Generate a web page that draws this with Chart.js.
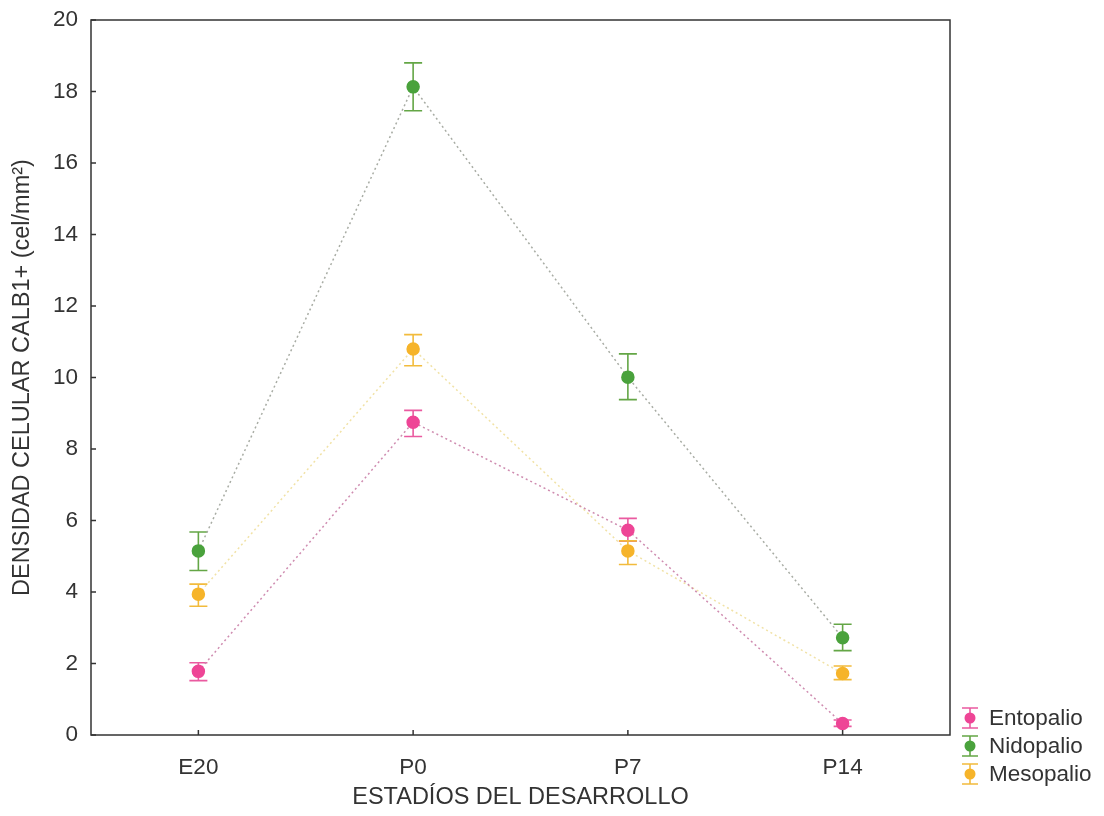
<!DOCTYPE html>
<html lang="es">
<head>
    <meta charset="UTF-8">
    <title>Densidad celular CALB1+</title>
    <script src="https://cdn.jsdelivr.net/npm/chart.js"></script>
    <style>
        body { margin: 0; padding: 0; background: #ffffff; }
        .chart-box { width: 1104px; height: 816px; }
    </style>
</head>
<body>
    <div class="chart-box">
        <canvas id="densityChart" width="1104" height="816"></canvas>
    </div>

    <script>
        // Values
        const categories = ['E20', 'P0', 'P7', 'P14'];
        const seriesNames = ['Entopalio', 'Nidopalio', 'Mesopalio'];

        const entopalio     = [1.78, 8.75, 5.73, 0.32];
        const entopalioLow  = [1.52, 8.35, 5.42, 0.24];
        const entopalioHigh = [2.02, 9.08, 6.06, 0.42];

        const nidopalio     = [5.15, 18.13, 10.01, 2.72];
        const nidopalioLow  = [4.60, 17.46, 9.38, 2.36];
        const nidopalioHigh = [5.68, 18.80, 10.66, 3.10];

        const mesopalio     = [3.94, 10.80, 5.15, 1.72];
        const mesopalioLow  = [3.60, 10.33, 4.77, 1.55];
        const mesopalioHigh = [4.22, 11.20, 5.43, 1.93];

        const yMin = 0, yMax = 20, yStep = 2;

        const pointColors = ['#ee4596', '#4aa23c', '#f6b42a'];
        const barColors   = ['#ea5aa0', '#64a646', '#f2bb3c'];
        const lineColors  = ['#cf8cb0', '#a8aca4', '#f1e2a6'];
        const lows  = [entopalioLow, nidopalioLow, mesopalioLow];
        const highs = [entopalioHigh, nidopalioHigh, mesopalioHigh];

        const font = 'Liberation Sans, Arial, sans-serif';
        const textColor = '#333333';

        // error bars under the points
        const errorBars = {
            id: 'errorBars',
            beforeDatasetsDraw(chart) {
                const ctx = chart.ctx;
                const y = chart.scales.y;
                chart.data.datasets.forEach((ds, i) => {
                    const meta = chart.getDatasetMeta(i);
                    ctx.save();
                    ctx.strokeStyle = barColors[i];
                    ctx.lineWidth = 1.6;
                    meta.data.forEach((pt, j) => {
                        const yl = y.getPixelForValue(lows[i][j]);
                        const yh = y.getPixelForValue(highs[i][j]);
                        ctx.beginPath();
                        ctx.moveTo(pt.x, yl); ctx.lineTo(pt.x, yh);
                        ctx.moveTo(pt.x - 9, yl); ctx.lineTo(pt.x + 9, yl);
                        ctx.moveTo(pt.x - 9, yh); ctx.lineTo(pt.x + 9, yh);
                        ctx.stroke();
                    });
                    ctx.restore();
                });
            }
        };

        // plot frame, inward ticks and legend
        const frameAndLegend = {
            id: 'frameAndLegend',
            afterDraw(chart) {
                const ctx = chart.ctx;
                const a = chart.chartArea;
                const x = chart.scales.x, y = chart.scales.y;
                ctx.save();
                ctx.strokeStyle = '#333333';
                ctx.lineWidth = 1.5;
                ctx.strokeRect(a.left, a.top, a.right - a.left, a.bottom - a.top);
                ctx.beginPath();
                y.ticks.forEach((t, i) => {
                    const py = y.getPixelForTick(i);
                    ctx.moveTo(a.left, py); ctx.lineTo(a.left + 5, py);
                });
                x.ticks.forEach((t, i) => {
                    const px = x.getPixelForTick(i);
                    ctx.moveTo(px, a.bottom); ctx.lineTo(px, a.bottom - 5);
                });
                ctx.stroke();

                // legend
                ctx.font = '22.5px ' + font;
                ctx.textBaseline = 'middle';
                ctx.textAlign = 'left';
                seriesNames.forEach((name, i) => {
                    const cy = 718 + i * 28;
                    const cx = 970;
                    ctx.strokeStyle = barColors[i];
                    ctx.lineWidth = 1.6;
                    ctx.beginPath();
                    ctx.moveTo(cx, cy - 10); ctx.lineTo(cx, cy + 10);
                    ctx.moveTo(cx - 8, cy - 10); ctx.lineTo(cx + 8, cy - 10);
                    ctx.moveTo(cx - 8, cy + 10); ctx.lineTo(cx + 8, cy + 10);
                    ctx.stroke();
                    ctx.fillStyle = pointColors[i];
                    ctx.beginPath();
                    ctx.arc(cx, cy, 5.5, 0, Math.PI * 2);
                    ctx.fill();
                    ctx.fillStyle = textColor;
                    ctx.fillText(name, 989, cy + 1);
                });
                ctx.restore();
            }
        };

        const seriesValues = [entopalio, nidopalio, mesopalio];
        const datasets = seriesNames.map((name, i) => ({
            label: name,
            data: seriesValues[i],
            borderColor: lineColors[i],
            borderWidth: 1.5,
            borderDash: [2, 3],
            pointBackgroundColor: pointColors[i],
            pointBorderColor: pointColors[i],
            pointRadius: 6,
            pointHoverRadius: 6,
            fill: false,
            tension: 0
        }));

        new Chart(document.getElementById('densityChart').getContext('2d'), {
            type: 'line',
            data: { labels: categories, datasets: datasets },
            options: {
                responsive: false,
                animation: false,
                layout: { padding: { left: 0, top: 20, right: 154, bottom: 0 } },
                plugins: {
                    legend: { display: false },
                    tooltip: { enabled: false }
                },
                scales: {
                    x: {
                        offset: true,
                        grid: { display: false, drawTicks: false },
                        border: { display: false },
                        ticks: {
                            padding: 19,
                            color: textColor,
                            font: { family: font, size: 22.5 }
                        },
                        title: {
                            display: true,
                            text: 'ESTADÍOS DEL DESARROLLO',
                            color: textColor,
                            font: { family: font, size: 23.5 },
                            padding: { top: 4, bottom: 4 }
                        },
                        afterFit(scale) { scale.height = 81; }
                    },
                    y: {
                        min: yMin,
                        max: yMax,
                        grid: { display: false, drawTicks: false },
                        border: { display: false },
                        ticks: {
                            stepSize: yStep,
                            padding: 13,
                            color: textColor,
                            font: { family: font, size: 22.5 }
                        },
                        title: {
                            display: true,
                            text: 'DENSIDAD CELULAR CALB1+ (cel/mm²)',
                            color: textColor,
                            font: { family: font, size: 23.5 },
                            padding: { top: 8, bottom: 0 }
                        },
                        afterFit(scale) {
                            scale.width = 91;
                            scale.paddingTop = 0;
                            scale.paddingBottom = 0;
                        }
                    }
                }
            },
            plugins: [errorBars, frameAndLegend]
        });
    </script>
</body>
</html>
